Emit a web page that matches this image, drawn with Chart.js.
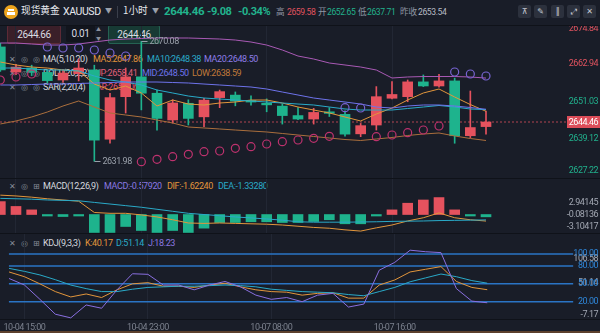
<!DOCTYPE html>
<html>
<head>
<meta charset="utf-8">
<title>XAUUSD 1H</title>
<script src="https://cdn.jsdelivr.net/npm/chart.js@4.4.1/dist/chart.umd.min.js"></script>
<style>
  html, body { margin: 0; padding: 0; background: #191d28; }
  #app { position: relative; width: 600px; height: 333px; overflow: hidden; background: #191d28;
         font-family: Roboto, "Noto Sans CJK SC", sans-serif; color: #c9ccd4; letter-spacing: -0.4px; }
  .abs { position: absolute; white-space: nowrap; line-height: 1; }
  .cjk { font-family: "Noto Sans CJK SC", sans-serif; letter-spacing: 0; }
  canvas { position: absolute; left: 0; z-index: 2; }
  .sep { position: absolute; left: 0; width: 600px; height: 1px; background: #0f1219; z-index: 3; }
  .lg { position: absolute; left: 0; width: 400px; z-index: 1; font-size: 9px; height: 11px; line-height: 11px; }
  .lg span { position: absolute; top: 0; white-space: nowrap; }
  .ic { color: #868b97; font-family: "DejaVu Sans", sans-serif; font-size: 8px; }
  .btn { position: absolute; top: 5px; width: 13px; height: 13px; border-radius: 2px; background: #2c313d;
         color: #c5c9d2; font-size: 8px; line-height: 13px; text-align: center; font-family: "DejaVu Sans", sans-serif; }
  .box { position: absolute; top: 25px; height: 17px; line-height: 17px; font-size: 10px; text-align: center;
         border-radius: 2px; z-index: 1; color: #d9dbe1; }
  .st { position: absolute; top: 8px; font-size: 8.6px; line-height: 1; white-space: nowrap; }
</style>
</head>
<body>
<div id="app">
  <!-- header -->
  <div class="abs" style="left:4px;top:5px;width:14px;height:14px;border-radius:7px;background:#eda41d;"></div>
  <div class="abs" style="left:8px;top:9px;width:6px;height:2px;background:#fff;"></div>
  <div class="abs" style="left:7px;top:12px;width:8px;height:3px;background:#fff;"></div>
  <div class="abs cjk" style="left:21px;top:6px;font-size:9.7px;color:#e6e8ee;">现货黄金</div>
  <div class="abs" style="left:63px;top:7px;font-size:10.5px;color:#e6e8ee;">XAUUSD</div>
  <div class="abs" style="left:105px;top:8px;font-size:7px;color:#9aa0ab;">▼</div>
  <div class="abs" style="left:117px;top:6px;width:1px;height:12px;background:#3a3f4b;"></div>
  <div class="abs cjk" style="left:123px;top:6px;font-size:9.7px;color:#e6e8ee;">1小时</div>
  <div class="abs" style="left:152px;top:8px;font-size:7px;color:#9aa0ab;">▼</div>
  <div class="abs" id="hPrice" style="left:164px;top:6px;font-size:11.5px;font-weight:bold;color:#22b38d;"></div>
  <div class="abs" style="left:207px;top:6px;font-size:11px;font-weight:bold;color:#22b38d;">-9.08</div>
  <div class="abs" style="left:238px;top:6px;font-size:11px;font-weight:bold;color:#22b38d;">-0.34%</div>
  <div class="st cjk" style="left:276px;top:7px;color:#9096a3;">高</div>
  <div class="st" style="left:287px;color:#e0535f;">2659.58</div>
  <div class="st cjk" style="left:318px;top:7px;color:#9096a3;">开</div>
  <div class="st" style="left:327px;color:#22b38d;">2652.65</div>
  <div class="st cjk" style="left:358px;top:7px;color:#9096a3;">低</div>
  <div class="st" style="left:367px;color:#22b38d;">2637.71</div>
  <div class="st cjk" style="left:400px;top:7px;color:#9096a3;">昨收</div>
  <div class="st" style="left:418px;color:#b7bbc4;">2653.54</div>
  <div class="btn" style="left:518px">⊼</div>
  <div class="btn" style="left:534px">✎</div>
  <div class="btn" style="left:551px">‖</div>
  <div class="btn" style="left:567px">⤢</div>
  <div class="btn" style="left:583px">✕</div>

  <!-- quick order widget -->
  <div class="box" style="left:7px;width:52px;background:#3a1f29;border:1px solid #5d2a36;">2644.66</div>
  <div class="box" style="left:66px;width:29px;background:#12151d;">0.01</div>
  <div class="abs" style="left:96px;top:27px;font-size:5px;color:#8a8f9b;z-index:1">▲</div>
  <div class="abs" style="left:96px;top:36px;font-size:5px;color:#8a8f9b;z-index:1">▼</div>
  <div class="box" style="left:108px;width:50px;background:#173a34;border:1px solid #256252;">2644.46</div>

  <!-- indicator legends (under the plots) -->
  <div class="lg" style="top:54px">
    <span class="ic" style="left:9px">✕</span><span class="ic" style="left:21px">◎</span><span class="ic" style="left:33px">◎</span>
    <span style="left:43px;color:#d5d8df">MA(5,10,20)</span>
    <span id="lgMa5" style="left:93px;color:#e2963c"></span>
    <span id="lgMa10" style="left:147px;color:#2aaac8"></span>
    <span id="lgMa20" style="left:204px;color:#8c7ce6"></span>
  </div>
  <div class="lg" style="top:68px">
    <span class="ic" style="left:9px">✕</span><span class="ic" style="left:21px">◎</span><span class="ic" style="left:33px">◎</span>
    <span style="left:43px;color:#d5d8df">BOLL(20,2,2)</span>
    <span id="lgUp" style="left:95px;color:#e0607a"></span>
    <span id="lgMid" style="left:142px;color:#6e73eb"></span>
    <span id="lgLow" style="left:192px;color:#c07a3a"></span>
  </div>
  <div class="lg" style="top:82px">
    <span class="ic" style="left:9px">✕</span><span class="ic" style="left:21px">◎</span><span class="ic" style="left:33px">◎</span>
    <span style="left:43px;color:#d5d8df">SAR(2,20,4)</span>
    <span id="lgSar" style="left:91px;color:#e0506e"></span>
  </div>
  <div class="lg" style="top:181px">
    <span class="ic" style="left:9px">✕</span><span class="ic" style="left:21px">◎</span><span class="ic" style="left:33px">⊞</span>
    <span style="left:43px;color:#d5d8df">MACD(12,26,9)</span>
    <span id="lgMacd" style="left:104px;color:#8a78e0"></span>
    <span id="lgDif" style="left:167px;color:#e2963c"></span>
    <span id="lgDea" style="left:218px;color:#2aaac8"></span>
  </div>
  <div class="lg" style="top:238px">
    <span class="ic" style="left:9px">✕</span><span class="ic" style="left:21px">◎</span><span class="ic" style="left:33px">⊞</span>
    <span style="left:43px;color:#d5d8df">KDJ(9,3,3)</span>
    <span id="lgK" style="left:85px;color:#e2963c"></span>
    <span id="lgD" style="left:116px;color:#2aaac8"></span>
    <span id="lgJ" style="left:148px;color:#8a78e0"></span>
  </div>

  <canvas id="priceChart" width="600" height="152" style="top:26px"></canvas>
  <canvas id="macdChart" width="600" height="54" style="top:179px"></canvas>
  <canvas id="kdjChart" width="600" height="99" style="top:234px"></canvas>

  <div class="sep" style="top:25px"></div>
  <div class="sep" style="top:178px"></div>
  <div class="sep" style="top:233px"></div>
  <div class="sep" style="top:319px"></div>
  <div class="abs" style="left:0;top:331px;width:600px;height:2px;background:#5c402c;z-index:3"></div>
</div>

<script>
// hourly bars, 10-04 14:00 .. 10-07 22:00
const times = [
  '10-04 14:00','10-04 15:00','10-04 16:00','10-04 17:00','10-04 18:00',
  '10-04 19:00','10-04 20:00','10-04 21:00','10-04 22:00','10-04 23:00',
  '10-05 00:00','10-05 01:00','10-05 02:00','10-05 03:00','10-05 04:00',
  '10-07 06:00','10-07 07:00','10-07 08:00','10-07 09:00','10-07 10:00',
  '10-07 11:00','10-07 12:00','10-07 13:00','10-07 14:00','10-07 15:00',
  '10-07 16:00','10-07 17:00','10-07 18:00','10-07 19:00','10-07 20:00',
  '10-07 21:00','10-07 22:00'
];
const timeTicks = [1, 9, 17, 25];

const opens  = [2668.3, 2660.3, 2661.6, 2660.2, 2657.8, 2659.8, 2661.0, 2639.0, 2652.5, 2658.8, 2653.6, 2645.1, 2650.4, 2646.1, 2652.2, 2653.0,
                2651.3, 2650.4, 2649.5, 2646.5, 2645.4, 2647.7, 2646.9, 2640.7, 2643.5, 2652.0, 2652.5, 2657.2, 2655.9, 2657.5, 2640.1, 2643.0];
const highs  = [2669.5, 2662.8, 2662.5, 2661.0, 2661.2, 2664.5, 2662.5, 2653.6, 2661.6, 2670.08, 2654.6, 2651.5, 2651.5, 2652.0, 2654.6, 2654.0,
                2652.8, 2651.8, 2650.2, 2649.0, 2648.8, 2649.0, 2648.0, 2644.0, 2655.7, 2657.3, 2657.8, 2659.4, 2659.58, 2658.4, 2654.3, 2647.9];
const lows   = [2660.5, 2659.5, 2659.2, 2656.8, 2657.0, 2657.5, 2631.98, 2637.7, 2647.3, 2648.3, 2641.9, 2644.1, 2643.5, 2643.0, 2649.0, 2649.6,
                2649.8, 2647.7, 2643.8, 2645.2, 2643.8, 2646.2, 2640.0, 2639.8, 2641.9, 2651.8, 2650.9, 2655.7, 2655.5, 2637.71, 2639.5, 2640.6];
const closes = [2661.0, 2661.9, 2660.2, 2657.6, 2660.0, 2661.6, 2638.7, 2652.2, 2658.8, 2653.6, 2645.6, 2650.5, 2645.6, 2651.4, 2654.1, 2651.1,
                2650.8, 2649.9, 2646.5, 2645.4, 2647.5, 2647.2, 2640.6, 2643.3, 2652.5, 2653.2, 2657.2, 2655.9, 2657.5, 2640.1, 2642.7, 2644.46];
const prevClose = 2653.54;

const ma5  = [2663.51, 2662.56, 2661.92, 2661.60, 2660.97, 2660.65, 2656.52, 2654.62, 2655.89, 2653.67, 2649.54, 2651.44, 2650.17, 2649.86, 2650.49, 2650.81,
              2651.44, 2651.44, 2650.49, 2649.22, 2648.27, 2647.32, 2646.05, 2644.78, 2647.00, 2648.90, 2651.44, 2653.67, 2654.94, 2652.40, 2650.00, 2647.86];
const ma10 = [2661.60, 2661.60, 2661.28, 2660.97, 2660.97, 2660.65, 2659.06, 2657.79, 2657.16, 2656.21, 2654.62, 2653.67, 2652.71, 2652.08, 2651.76, 2651.44,
              2651.13, 2650.81, 2650.49, 2650.17, 2649.86, 2649.22, 2648.59, 2648.27, 2648.27, 2648.27, 2648.75, 2649.22, 2649.70, 2649.22, 2648.59, 2648.38];
// MA20 and the BOLL middle band are the same series
const ma20 = [2656.21, 2656.21, 2656.36, 2656.52, 2656.52, 2656.68, 2656.84, 2657.00, 2657.16, 2657.16, 2657.16, 2657.00, 2656.84, 2656.52, 2656.21, 2655.89,
              2655.57, 2654.94, 2653.98, 2653.03, 2652.08, 2651.44, 2650.81, 2650.17, 2649.22, 2648.90, 2649.54, 2649.86, 2649.86, 2649.54, 2649.06, 2648.50];
const bollUp  = [2669.54, 2669.54, 2669.22, 2668.90, 2668.90, 2669.22, 2669.86, 2670.49, 2670.81, 2670.97, 2671.13, 2671.13, 2671.13, 2670.97, 2670.81, 2670.49,
                 2669.86, 2668.90, 2667.32, 2665.41, 2664.46, 2663.19, 2662.56, 2661.92, 2660.97, 2658.43, 2658.75, 2658.90, 2658.90, 2658.90, 2658.75, 2658.41];
const bollLow = [2643.83, 2644.78, 2646.05, 2647.63, 2649.54, 2651.13, 2649.22, 2647.32, 2646.68, 2646.05, 2645.09, 2644.14, 2642.87, 2642.56, 2642.24, 2641.92,
                 2641.60, 2641.29, 2640.81, 2640.33, 2639.86, 2639.38, 2638.90, 2638.59, 2639.06, 2639.54, 2640.17, 2640.65, 2640.97, 2640.02, 2639.22, 2638.59];
const sar = [2657.79, 2658.75, 2659.70, 2668.27, 2667.95, 2667.95, 2667.32, 2666.36, 2665.41, 2631.86, 2632.62, 2633.45, 2634.21, 2635.03, 2635.25, 2636.11,
             2636.62, 2637.48, 2638.21, 2638.75, 2639.29, 2639.92, 2649.00, 2648.90, 2639.79, 2640.33, 2641.06, 2641.92, 2643.19, 2660.33, 2659.70, 2659.06];
const priceTicks = [2674.84, 2662.94, 2651.03, 2639.12, 2627.22];

const macdHist = [3.2, 2.0, 1.15, -0.2, -0.5, -0.2, -4.45, -4.45, -2.97, -3.96, -4.45, -3.96, -4.45, -3.38, -1.98, -1.98,
                  -1.8, -1.8, -1.98, -1.98, -1.73, -1.3, -2.3, -2.3, -0.25, 1.15, 2.8, 3.6, 4.2, 1.15, -0.25, -0.5792];
const dif = [4.8, 4.6, 4.3, 3.9, 3.6, 3.3, 0.5, 0.3, 0.3, -0.1, -0.6, -1.3, -2.1, -2.2, -2.1, -2.2,
             -2.3, -2.4, -2.6, -2.9, -3.2, -3.4, -3.8, -4.1, -3.3, -2.6, -1.6, -0.8, 0.4, -0.8, -1.3, -1.6224];
const dea = [4.0, 3.9, 3.8, 3.6, 3.5, 3.4, 3.0, 2.6, 2.2, 1.8, 1.3, 0.8, 0.3, 0.0, -0.3, -0.6,
             -0.85, -1.1, -1.4, -1.8, -1.9, -1.9, -1.9, -1.85, -1.8, -1.7, -1.65, -1.6, -1.5, -1.45, -1.4, -1.3328];
const macdTicks = [2.94145, -0.08136, -3.10417];

const kVals = [70, 62, 50, 37, 28, 33, 27, 40, 50, 52, 46, 46, 44, 48, 51, 45,
               40, 37, 36, 31, 34, 35, 26, 26, 48, 56.5, 70, 74.5, 79, 54, 44, 40.17];
const dVals = [76, 71, 65, 57, 48, 42, 37, 37, 41, 44, 45, 46, 46, 47, 48, 47,
               45, 41, 39, 37, 36, 35, 32, 30, 37, 44, 53.5, 60, 66.5, 62, 55.5, 51.14];
const jVals = [59, 48, 24, -1, -7.17, 14.5, 9, 40, 67, 66, 48, 48, 40, 48, 54, 45,
               31, 24, 27, 20, 31, 34, 11, 16, 73, 86, 106.58, 104, 102.5, 42, 21, 18.23];
const kdjLevels = [100, 80, 50, 20];

const FONT = 'Roboto, "Noto Sans CJK SC", sans-serif';
const RED = '#e5525e', GREEN = '#1eb38d';
const C_MA5 = '#e2963c', C_MA10 = '#2aaac8', C_MID = '#6e73eb', C_UP = '#a95ab5', C_LOW = '#ab6f3d';
const C_J = '#8a6fe0';
const X_MIN = -0.021, X_MAX = 36.17;
const last = closes[closes.length - 1];
const idx = closes.map((_, i) => i);
const pts = arr => arr.map((v, i) => ({x: i, y: v}));
const candleColor = c => closes[c.dataIndex] >= opens[c.dataIndex] ? RED : GREEN;

// legend texts
const setText = (id, t) => { document.getElementById(id).textContent = t; };
const lastOf = a => a[a.length - 1];
setText('hPrice', last.toFixed(2));
setText('lgMa5', 'MA5:' + lastOf(ma5).toFixed(2));
setText('lgMa10', 'MA10:' + lastOf(ma10).toFixed(2));
setText('lgMa20', 'MA20:' + lastOf(ma20).toFixed(2));
setText('lgUp', 'UP:' + lastOf(bollUp).toFixed(2));
setText('lgMid', 'MID:' + lastOf(ma20).toFixed(2));
setText('lgLow', 'LOW:' + lastOf(bollLow).toFixed(2));
setText('lgSar', 'SAR:' + lastOf(sar).toFixed(2));
setText('lgMacd', 'MACD:' + lastOf(macdHist).toFixed(5));
setText('lgDif', 'DIF:' + lastOf(dif).toFixed(5));
setText('lgDea', 'DEA:' + lastOf(dea).toFixed(5));
setText('lgK', 'K:' + lastOf(kVals).toFixed(2));
setText('lgD', 'D:' + lastOf(dVals).toFixed(2));
setText('lgJ', 'J:' + lastOf(jVals).toFixed(2));

function xAxis(showLabels) {
  return {
    type: 'linear', min: X_MIN, max: X_MAX, offset: false,
    afterBuildTicks: s => { s.ticks = timeTicks.map(v => ({value: v})); },
    afterFit: s => { s.height = showLabels ? 14 : 0; },
    grid: {color: '#222734', drawTicks: false, offset: false},
    border: {display: false},
    ticks: {display: showLabels, autoSkip: false, maxRotation: 0, padding: 3, color: '#7b808d',
             font: {size: 9, family: FONT}, callback: v => times[v]}
  };
}
function yAxis(min, max) {
  return {position: 'right', min: min, max: max, afterFit: s => { s.width = 33; },
          grid: {display: false}, border: {display: false}, ticks: {display: false}};
}
function baseOptions(yMin, yMax, showLabels) {
  return {
    responsive: false, animation: false, events: [],
    layout: {padding: 0, autoPadding: false},
    plugins: {legend: {display: false}, tooltip: {enabled: false}},
    scales: {x: xAxis(showLabels), y: yAxis(yMin, yMax)}
  };
}
const tightText = {
  id: 'tightText',
  beforeDraw(chart) { chart.ctx.letterSpacing = '-0.5px'; }
};
const line = (data, color, extra) => Object.assign({
  type: 'line', data: pts(data), borderColor: color, borderWidth: 1, pointRadius: 0, tension: 0, order: 1
}, extra || {});

// price pane: labels, last price tag, high/low markers
const pricePaneText = {
  id: 'pricePaneText',
  afterDraw(chart) {
    const {ctx, chartArea: a, scales: {x, y}} = chart;
    ctx.save();
    ctx.letterSpacing = '-0.5px';
    ctx.font = '9px ' + FONT;
    ctx.textAlign = 'right';
    ctx.textBaseline = 'middle';
    priceTicks.forEach(v => {
      const py = Math.min(Math.max(y.getPixelForValue(v), a.top + 3), a.bottom - 7);
      ctx.fillStyle = v > prevClose ? '#e0535f' : '#21b08c';
      ctx.fillText(v.toFixed(2), chart.width - 2, py);
    });
    const ly = y.getPixelForValue(last);
    ctx.fillStyle = '#dc4d59';
    ctx.fillRect(a.right, ly - 6, chart.width - a.right, 12);
    ctx.fillStyle = '#ffffff';
    ctx.fillText(last.toFixed(2), chart.width - 2, ly + 0.5);

    const hi = highs.indexOf(Math.max(...highs));
    const lo = lows.indexOf(Math.min(...lows));
    ctx.strokeStyle = '#9aa0aa';
    ctx.fillStyle = '#9aa0aa';
    ctx.lineWidth = 1;
    ctx.textAlign = 'left';
    [[hi, highs[hi]], [lo, lows[lo]]].forEach(([i, v]) => {
      const px = Math.round(x.getPixelForValue(i)) + 0.5;
      const py = Math.round(y.getPixelForValue(v)) + 0.5;
      ctx.beginPath();
      ctx.moveTo(px, py);
      ctx.lineTo(px + 6, py);
      ctx.stroke();
      ctx.fillText(v.toFixed(2), px + 8, py);
    });
    ctx.restore();
  }
};

new Chart(document.getElementById('priceChart'), {
  type: 'bar',
  data: {
    datasets: [
      line([], 'rgba(214,78,90,0.8)', {
        data: [{x: X_MIN, y: last}, {x: X_MAX, y: last}], borderDash: [2, 2], order: 6
      }),
      {type: 'bar', data: idx.map(i => ({x: i, y: [lows[i], highs[i]]})), backgroundColor: candleColor,
       barThickness: 1, grouped: false, order: 5},
      {type: 'bar', data: idx.map(i => ({x: i, y: [opens[i], closes[i]]})), backgroundColor: candleColor,
       barThickness: 10, minBarLength: 1, grouped: false, order: 4},
      line(bollUp, C_UP),
      line(bollLow, C_LOW),
      line(ma20, C_MID),
      line(ma10, C_MA10),
      line(ma5, C_MA5),
      {type: 'line', data: pts(sar), showLine: false, pointRadius: 4, pointBorderWidth: 1.2,
       pointBackgroundColor: 'rgba(0,0,0,0)',
       pointBorderColor: c => sar[c.dataIndex] > highs[c.dataIndex] ? '#7864d2' : '#be326e', order: 0}
    ]
  },
  options: baseOptions(2626.68, 2674.94, false),
  plugins: [tightText, pricePaneText]
});

// MACD pane
const macdPaneText = {
  id: 'macdPaneText',
  afterDraw(chart) {
    const {ctx, scales: {y}} = chart;
    ctx.save();
    ctx.letterSpacing = '-0.5px';
    ctx.font = '9px ' + FONT;
    ctx.textAlign = 'right';
    ctx.textBaseline = 'middle';
    ctx.fillStyle = '#a3a8b3';
    macdTicks.forEach(v => ctx.fillText(v.toFixed(5), chart.width - 2, y.getPixelForValue(v)));
    ctx.restore();
  }
};
new Chart(document.getElementById('macdChart'), {
  type: 'bar',
  data: {
    datasets: [
      {type: 'bar', data: pts(macdHist), backgroundColor: c => macdHist[c.dataIndex] >= 0 ? RED : GREEN,
       barThickness: 10, minBarLength: 1.5, grouped: false, order: 3},
      line(dea, C_MA10),
      line(dif, C_MA5)
    ]
  },
  options: baseOptions(-4.58, 8.80, false),
  plugins: [tightText, macdPaneText]
});

// KDJ pane
const kdjPaneText = {
  id: 'kdjPaneText',
  afterDraw(chart) {
    const {ctx, scales: {y}} = chart;
    ctx.save();
    ctx.letterSpacing = '-0.5px';
    ctx.font = '9px ' + FONT;
    ctx.textAlign = 'right';
    ctx.textBaseline = 'middle';
    const all = kVals.concat(dVals, jVals);
    const top = Math.max(...all), bottom = Math.min(...all);
    ctx.fillStyle = '#a3a8b3';
    ctx.fillText(top.toFixed(2), chart.width - 2, y.getPixelForValue(top) + 9);
    ctx.fillText(bottom.toFixed(2), chart.width - 2, y.getPixelForValue(bottom) - 3);
    ctx.fillText(lastOf(dVals).toFixed(2), chart.width - 2, y.getPixelForValue(lastOf(dVals)));
    ctx.fillStyle = '#2f86d8';
    kdjLevels.forEach(v => ctx.fillText(v.toFixed(2), chart.width - 2, y.getPixelForValue(v)));
    ctx.restore();
  }
};
new Chart(document.getElementById('kdjChart'), {
  type: 'line',
  data: {
    datasets: kdjLevels.map(v => ({
      type: 'line', data: [{x: X_MIN, y: v}, {x: X_MAX + 0.4, y: v}], borderColor: '#2a74c4',
      borderWidth: 1.5, pointRadius: 0, order: 5, clip: {left: 0, top: 0, right: 7, bottom: 0}
    })).concat([
      line(jVals, C_J),
      line(dVals, C_MA10),
      line(kVals, C_MA5)
    ])
  },
  options: baseOptions(-9.08, 133.8, true),
  plugins: [tightText, kdjPaneText]
});
</script>
</body>
</html>
